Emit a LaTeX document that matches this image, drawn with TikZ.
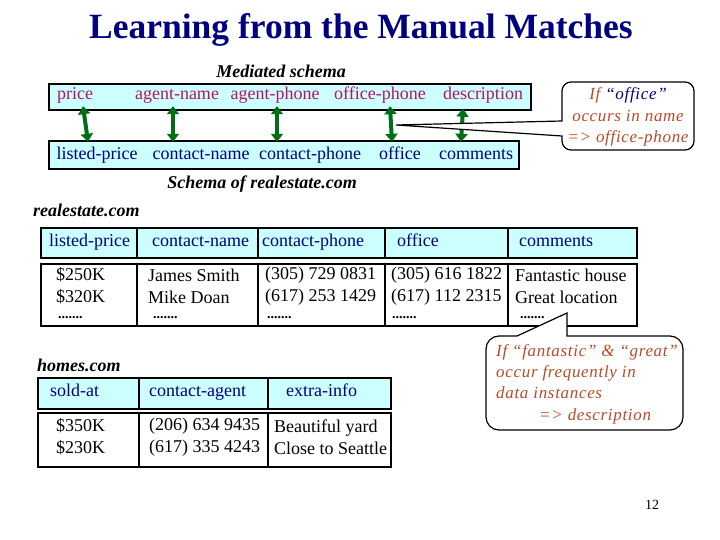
\documentclass[tikz,border=0pt]{standalone}
\usepackage{fontspec}
\setmainfont{Liberation Serif}
\newfontfamily\callfont[LetterSpace=4]{Liberation Serif}
\usetikzlibrary{arrows.meta,calc}
\definecolor{navy}{RGB}{0,0,128}
\definecolor{cyanfill}{RGB}{204,255,255}
\definecolor{magcol}{RGB}{180,20,100}
\definecolor{arrowgreen}{RGB}{0,110,20}
\definecolor{browncol}{RGB}{185,75,40}
\begin{document}
\begin{tikzpicture}[x=1pt,y=-1pt,
 txt/.style={font=\fontsize{18}{22}\selectfont, inner sep=0pt, text height=13pt, text depth=4pt},
 med/.style={txt, text=magcol},
 sch/.style={txt, text=navy},
 hdr/.style={txt, text=navy, anchor=west},
 cell/.style={font=\fontsize{18}{22}\selectfont, inner sep=0pt, anchor=west, align=left},
 boxline/.style={draw=black, line width=2pt},
 hbox/.style={boxline, fill=cyanfill, inner sep=0pt, anchor=north west},
 dbox/.style={boxline, fill=white, inner sep=0pt, anchor=north west},
 garrow/.style={draw=arrowgreen, line width=4pt, {Triangle[width=12pt,length=8pt]}-{Triangle[width=12pt,length=8pt]}},
 lbl/.style={font=\fontsize{18}{20}\selectfont\bfseries\itshape, inner sep=0pt},
 dotrow/.style={font=\fontsize{14}{14}\selectfont\bfseries, inner sep=0pt, anchor=west},
 callout/.style={draw=black, line width=1.2pt, fill=white},
 ctext/.style={font=\fontsize{17}{21.3}\selectfont\callfont\itshape, text=browncol, inner sep=0pt}
]
\useasboundingbox (0,0) rectangle (720,540);

% title
\node[font=\fontsize{35.5}{40}\selectfont\bfseries, text=navy, inner sep=0pt] (title) at (361,30) {Learning from the Manual Matches};

% mediated schema
\node[lbl] (medlbl) at (281,71) {Mediated schema};
\node[hbox, minimum width=482pt, minimum height=26pt] (medbox) at (48,83) {};
\node[med] (m1) at (75,95) {price};
\node[med] (m2) at (177,95) {agent-name};
\node[med] (m3) at (275,95) {agent-phone};
\node[med] (m4) at (380,95) {office-phone};
\node[med] (m5) at (483,95) {description};

\node[hbox, minimum width=470pt, minimum height=28pt] (schbox) at (48,140) {};
\node[sch] (s1) at (97,155) {listed-price};
\node[sch] (s2) at (201,155) {contact-name};
\node[sch] (s3) at (310,155) {contact-phone};
\node[sch] (s4) at (400,155) {office};
\node[sch] (s5) at (476,155) {comments};
\node[lbl] (schlbl) at (262,184) {Schema of realestate.com};

\draw[garrow] ([xshift=8pt,yshift=-2.5pt]m1.south) -- ([xshift=-9pt,yshift=4.5pt]s1.north);
\draw[garrow] ([xshift=-4pt,yshift=-2.5pt]m2.south) -- ([xshift=-28pt,yshift=4.5pt]s2.north);
\draw[garrow] ([xshift=2pt,yshift=-2.5pt]m3.south) -- ([xshift=-33pt,yshift=4.5pt]s3.north);
\draw[garrow] ([xshift=10pt,yshift=-2.5pt]m4.south) -- ([xshift=-8pt,yshift=4.5pt]s4.north);
\draw[garrow] ([xshift=-20pt,yshift=-5pt]m5.south) -- ([xshift=-15pt,yshift=4.5pt]s5.north);

% callout 1
\coordinate (tip1) at (396,125);
\draw[callout] (tip1) -- (562,136) [rounded corners=9pt] -- (562,150) -- (694,150) -- (694,82) -- (562,82) [sharp corners] -- (562,121) -- cycle;
\node[ctext, align=center] (c1) at (628,117) {If {\color{navy}“office”}\\occurs in name\\=> office-phone};

% realestate.com table
\node[lbl, anchor=west] (relbl) at (33,210) {realestate.com};
\node[hbox, minimum width=596pt, minimum height=30pt] (t1h) at (40,227) {};
\node[dbox, minimum width=596pt, minimum height=62pt] (t1d) at (40,263) {};
\foreach \x in {137,258,385,508} {
  \draw[boxline] (\x,227) -- (\x,257);
  \draw[boxline] (\x,263) -- (\x,325);
}
\node[hdr] (h1) at (49,242) {listed-price};
\node[hdr] (h2) at (152,242) {contact-name};
\node[hdr] (h3) at (262,242) {contact-phone};
\node[hdr] (h4) at (397,242) {office};
\node[hdr] (h5) at (519,242) {comments};

\node[cell] (d1) at (56,286) {\$250K\\\$320K};
\node[cell] (d2) at (148,286) {James Smith\\Mike Doan};
\node[cell] (d3) at (265,286) {(305) 729 0831\\(617) 253 1429};
\node[cell] (d4) at (391,286) {(305) 616 1822\\(617) 112 2315};
\node[cell] (d5) at (515,286) {Fantastic house\\Great location};
\node[dotrow] (e1) at (58,318) {.......};
\node[dotrow] (e2) at (153,318) {.......};
\node[dotrow] (e3) at (267,318) {.......};
\node[dotrow] (e4) at (392,318) {.......};
\node[dotrow] (e5) at (520,318) {.......};

% homes.com table
\node[lbl, anchor=west] (holbl) at (37,365) {homes.com};
\node[hbox, minimum width=353pt, minimum height=31pt] (t2h) at (37,377) {};
\node[dbox, minimum width=353pt, minimum height=54pt] (t2d) at (37,412) {};
\foreach \x in {139,268} {
  \draw[boxline] (\x,377) -- (\x,408);
  \draw[boxline] (\x,412) -- (\x,466);
}
\node[hdr] (g1) at (50,392) {sold-at};
\node[hdr] (g2) at (149,392) {contact-agent};
\node[hdr] (g3) at (286,392) {extra-info};
\node[cell] (k1) at (56,437) {\$350K\\\$230K};
\node[cell] (k2) at (149,437) {(206) 634 9435\\(617) 335 4243};
\node[cell] (k3) at (274,437) {Beautiful yard\\Close to Seattle};

% callout 2
\coordinate (tip2) at (567,313);
\draw[callout] (tip2) -- (567,336) [rounded corners=13pt] -- (683,336) -- (683,430) -- (486,430) -- (486,336) [sharp corners] -- (517,336) -- cycle;
\node[ctext, align=left, anchor=west] (c2) at (496,384) {If “fantastic” \& “great”\\occur frequently in\\data instances\\\hspace*{43pt}=> description};

% page number
\node[font=\fontsize{14}{16}\selectfont, inner sep=0pt] (pg) at (652,505) {12};
\end{tikzpicture}
\end{document}
